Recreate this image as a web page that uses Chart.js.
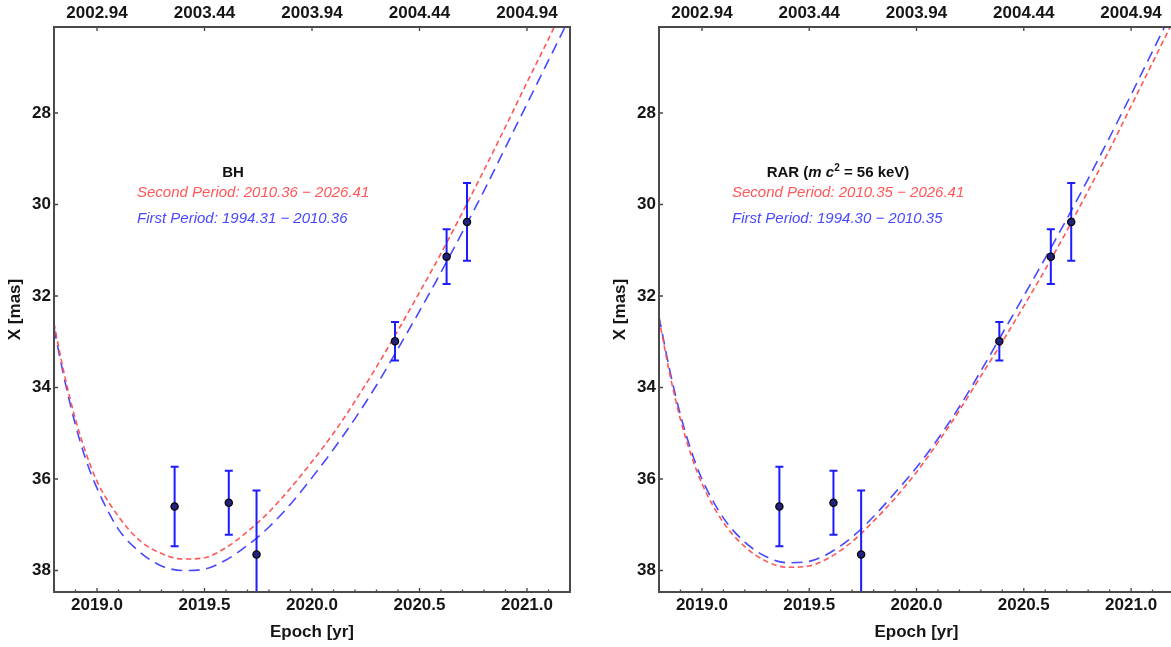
<!DOCTYPE html>
<html>
<head>
<meta charset="utf-8">
<script src="https://cdn.jsdelivr.net/npm/chart.js@4.4.1/dist/chart.umd.min.js"></script>
<style>
  html, body { margin: 0; padding: 0; background: #fff; width: 1171px; height: 647px; overflow: hidden; position: relative; }
  canvas { position: absolute; top: 0; }
  #left { left: 0; }
  #right { left: 585px; }
</style>
</head>
<body>
<canvas id="left" width="585" height="647"></canvas>
<canvas id="right" width="600" height="647"></canvas>
<script>
// observed S2 positions (same in both panels)
const epochs = [2019.361, 2019.613, 2019.742, 2020.386, 2020.626, 2020.721];
const xObs = [36.60, 36.52, 37.65, 32.99, 31.14, 30.38];
const xErr = [0.87, 0.70, 1.40, 0.42, 0.60, 0.85];

// model curves
const curveT = [2018.80, 2018.85, 2018.90, 2018.95, 2019.00, 2019.10, 2019.20, 2019.30, 2019.40,
  2019.50, 2019.60, 2019.70, 2019.80, 2019.90, 2020.00, 2020.10, 2020.20, 2020.30, 2020.40,
  2020.50, 2020.60, 2020.70, 2020.80, 2020.90, 2021.00, 2021.10, 2021.20];
const bhSecond = [32.6, 33.75, 34.7, 35.45, 36.05, 36.82, 37.35, 37.63, 37.75,
  37.72, 37.5, 37.15, 36.72, 36.2, 35.62, 35.0, 34.3, 33.55, 32.75,
  31.92, 31.07, 30.17, 29.25, 28.3, 27.33, 26.38, 25.4];
const bhFirst = [32.7, 33.85, 34.82, 35.6, 36.2, 37.1, 37.6, 37.9, 38.0,
  37.97, 37.77, 37.45, 37.05, 36.55, 35.97, 35.35, 34.68, 33.95, 33.15,
  32.33, 31.48, 30.6, 29.7, 28.75, 27.8, 26.85, 25.9];
const rarSecond = [32.5, 33.7, 34.7, 35.48, 36.1, 36.95, 37.48, 37.8, 37.93,
  37.9, 37.7, 37.37, 36.92, 36.42, 35.85, 35.2, 34.5, 33.75, 33.0,
  32.22, 31.42, 30.58, 29.7, 28.8, 27.85, 26.9, 25.95];
const rarFirst = [32.45, 33.62, 34.6, 35.38, 36.0, 36.85, 37.38, 37.7, 37.83,
  37.8, 37.6, 37.27, 36.82, 36.3, 35.75, 35.12, 34.42, 33.64, 32.82,
  32.0, 31.17, 30.32, 29.44, 28.53, 27.6, 26.65, 25.7];

// axes
const xTicks = [2019.0, 2019.5, 2020.0, 2020.5, 2021.0];
const topLabels = ["2002.94", "2003.44", "2003.94", "2004.44", "2004.94"];
const yTicks = [28, 30, 32, 34, 36, 38];

const RED = "#ff5757";
const BLUE = "#4848ff";
const FONT = "'Liberation Sans', Arial, Helvetica, sans-serif";

const frameTicks = {
  id: "frameTicks",
  beforeDatasetDraw(chart, args) {
    if (args.index !== 0) return;
    const { ctx, chartArea: a } = chart;
    const x = chart.scales.x, y = chart.scales.y;
    ctx.save();
    ctx.beginPath(); ctx.rect(a.left, a.top, a.width, a.height); ctx.clip();
    ctx.strokeStyle = "#1c1cff"; ctx.lineWidth = 2;
    epochs.forEach((t, i) => {
      const px = x.getPixelForValue(t);
      const top = y.getPixelForValue(xObs[i] - xErr[i]);
      const bot = y.getPixelForValue(xObs[i] + xErr[i]);
      ctx.beginPath();
      ctx.moveTo(px, top); ctx.lineTo(px, bot);
      ctx.moveTo(px - 4, top); ctx.lineTo(px + 4, top);
      ctx.moveTo(px - 4, bot); ctx.lineTo(px + 4, bot);
      ctx.stroke();
    });
    ctx.restore();
  },
  afterDraw(chart, args, opts) {
    const { ctx, chartArea: a } = chart;
    const x = chart.scales.x, y = chart.scales.y;
    ctx.save();
    // ticks
    ctx.strokeStyle = "#444"; ctx.lineWidth = 1.3;
    ctx.beginPath();
    xTicks.forEach((v) => {
      const px = x.getPixelForValue(v);
      ctx.moveTo(px, a.bottom); ctx.lineTo(px, a.bottom - 4);
      ctx.moveTo(px, a.top); ctx.lineTo(px, a.top + 4);
    });
    for (let v = 2018.9; v < 2021.2; v += 0.1) {
      const px = x.getPixelForValue(v);
      ctx.moveTo(px, a.bottom); ctx.lineTo(px, a.bottom - 2.5);
    }
    yTicks.forEach((v) => {
      const py = y.getPixelForValue(v);
      ctx.moveTo(a.left, py); ctx.lineTo(a.left + 4, py);
    });
    ctx.stroke();
    // frame
    ctx.strokeStyle = "#4a4a4a"; ctx.lineWidth = 2;
    ctx.strokeRect(a.left, a.top, a.width, a.height);

    // annotation
    const tx = a.left + opts.titleX;
    ctx.textBaseline = "middle";
    ctx.fillStyle = "#111";
    const parts = opts.title;
    let total = 0;
    parts.forEach((p) => { ctx.font = p.font; total += ctx.measureText(p.text).width; });
    let cx = tx - total / 2;
    parts.forEach((p) => {
      ctx.font = p.font;
      ctx.fillText(p.text, cx, a.top + 146 + (p.dy || 0));
      cx += ctx.measureText(p.text).width;
    });
    ctx.font = "italic 15px " + FONT;
    ctx.fillStyle = RED;
    ctx.fillText(opts.second, a.left + opts.legendX, a.top + 165.5);
    ctx.fillStyle = BLUE;
    ctx.fillText(opts.first, a.left + opts.legendX, a.top + 191.5);
    ctx.restore();
  }
};

function makeChart(id, second, first, note) {
  const tickFont = { family: FONT, size: 17, weight: "bold" };
  const xBase = {
    type: "linear",
    min: 2018.8,
    max: 2021.2,
    afterBuildTicks: (s) => { s.ticks = xTicks.map((v) => ({ value: v })); },
    grid: { display: false, drawTicks: false },
    border: { display: false },
  };
  return new Chart(document.getElementById(id), {
    type: "scatter",
    data: {
      datasets: [
        {
          data: epochs.map((t, i) => ({ x: t, y: xObs[i] })),
          showLine: false,
          pointRadius: 3.6,
          pointBackgroundColor: "#22227e",
          pointBorderColor: "#050505",
          pointBorderWidth: 1.3,
        },
        {
          data: curveT.map((t, i) => ({ x: t, y: second[i] })),
          showLine: true,
          borderColor: RED,
          borderWidth: 1.6,
          borderDash: [5.5, 3.5],
          pointRadius: 0,
          cubicInterpolationMode: "monotone",
        },
        {
          data: curveT.map((t, i) => ({ x: t, y: first[i] })),
          showLine: true,
          borderColor: BLUE,
          borderWidth: 1.6,
          borderDash: [11, 6.5],
          pointRadius: 0,
          cubicInterpolationMode: "monotone",
        },
      ],
    },
    options: {
      responsive: false,
      animation: false,
      events: [],
      layout: { padding: { left: note.padLeft, right: note.padRight, top: 0, bottom: 0 } },
      plugins: { legend: { display: false }, tooltip: { enabled: false }, frameTicks: note },
      scales: {
        x: {
          ...xBase,
          position: "bottom",
          afterFit: (s) => { s.height = 55; },
          ticks: { padding: 3.5, color: "#151515", font: tickFont, autoSkip: false, maxRotation: 0,
            callback: (v) => v.toFixed(1) },
          title: { display: true, text: "Epoch [yr]", color: "#151515", font: tickFont, padding: { top: 0, bottom: 4 } },
        },
        x2: {
          ...xBase,
          position: "top",
          afterFit: (s) => { s.height = 27; },
          ticks: { padding: 3.5, color: "#151515", font: tickFont, autoSkip: false, maxRotation: 0,
            callback: (v, i) => topLabels[i] },
        },
        y: {
          reverse: true,
          min: 26.12,
          max: 38.47,
          afterBuildTicks: (s) => { s.ticks = yTicks.map((v) => ({ value: v })); },
          afterFit: (s) => { s.width = 54; },
          grid: { display: false, drawTicks: false },
          border: { display: false },
          ticks: { padding: 3, color: "#151515", font: tickFont, callback: (v) => String(v) },
          title: { display: true, text: "X [mas]", color: "#151515", font: tickFont, padding: { top: 5, bottom: 0 } },
        },
      },
    },
    plugins: [frameTicks],
  });
}

const bold = "bold 15px " + FONT;
const boldIt = "italic bold 15px " + FONT;

makeChart("left", bhSecond, bhFirst, {
  padLeft: 0, padRight: 15, titleX: 179, legendX: 83,
  title: [{ text: "BH", font: bold }],
  second: "Second Period: 2010.36 \u2212 2026.41",
  first: "First Period: 1994.31 \u2212 2010.36",
});

makeChart("right", rarSecond, rarFirst, {
  padLeft: 20, padRight: 11, titleX: 179, legendX: 73,
  title: [
    { text: "RAR (", font: bold },
    { text: "m c", font: boldIt },
    { text: "2", font: "bold 10px " + FONT, dy: -5 },
    { text: " = 56 keV)", font: bold },
  ],
  second: "Second Period: 2010.35 \u2212 2026.41",
  first: "First Period: 1994.30 \u2212 2010.35",
});
</script>
</body>
</html>
